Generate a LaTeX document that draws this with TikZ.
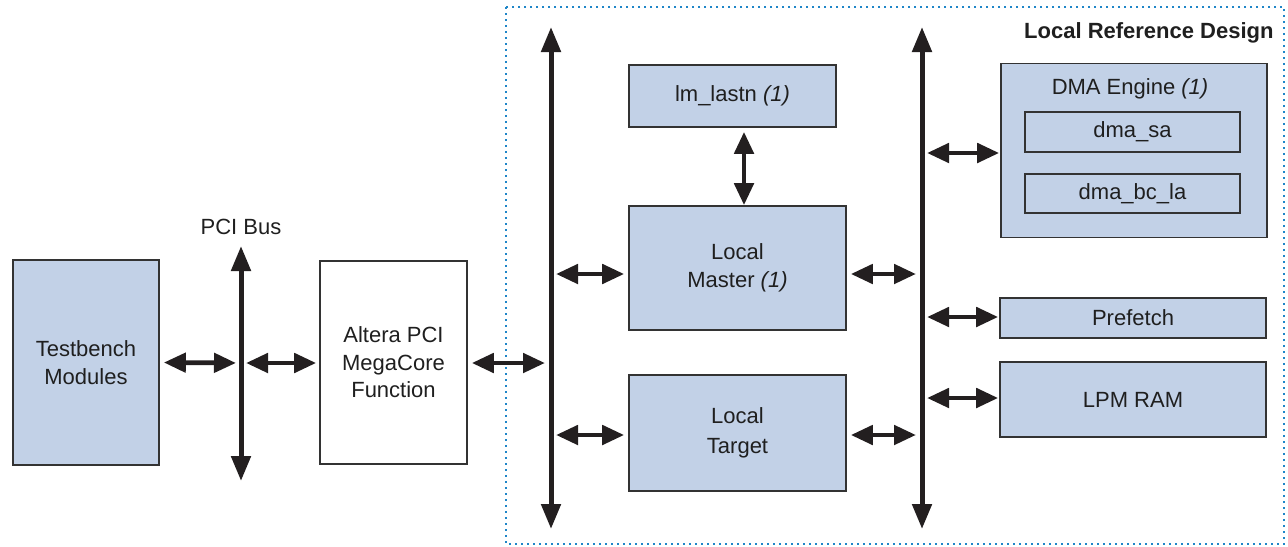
\documentclass[tikz,border=0pt]{standalone}
\usepackage{fontspec}
\setmainfont{Liberation Sans}
\usetikzlibrary{arrows.meta}
\definecolor{boxblue}{HTML}{C2D1E7}
\definecolor{edgegray}{HTML}{333333}
\definecolor{dotblue}{HTML}{1F86C8}
\definecolor{arrowblack}{HTML}{231F20}
\tikzset{
  blk/.style={draw=edgegray, line width=0.8pt, fill=boxblue, inner sep=0pt, align=center,
    font=\fontsize{11}{13.75}\selectfont, text=black!88},
  wblk/.style={blk, fill=white},
  busline/.style={draw=arrowblack, line width=2.5pt,
    {Triangle[length=12.5pt,width=9.5pt]}-{Triangle[length=12.5pt,width=9.5pt]}},
  link/.style={draw=arrowblack, line width=2.4pt,
    {Triangle[length=11pt,width=9.5pt]}-{Triangle[length=11pt,width=9.5pt]}},
  lbl/.style={font=\fontsize{11}{13.75}\selectfont, text=black!88, inner sep=0pt}
}
\begin{document}
\begin{tikzpicture}[x=0.5pt, y=-0.5pt]
\useasboundingbox (0,0) rectangle (1288,546);
% dotted frame
\draw[dotblue, line width=1pt, dash pattern=on 1pt off 2pt] (506,7) rectangle (1284,544);
\node[lbl, font=\fontsize{11}{13}\selectfont\bfseries, anchor=east] (title) at (1274,33) {Local Reference Design};

% boxes
\node[blk, minimum width=73pt, minimum height=102.5pt] (tb) at (86,362.5) {Testbench\\Modules};
\node[wblk, minimum width=73.5pt, minimum height=101.5pt] (alt) at (393.5,362.5) {Altera PCI\\MegaCore\\Function};
\node[blk, minimum width=103.5pt, minimum height=31pt] (lm) at (732.5,96) {lm\_lastn \textit{(1)}};
\node[blk, minimum width=108.5pt, minimum height=62pt] (lmaster) at (737.5,268) {Local\\Master \textit{(1)}};
\node[blk, minimum width=108.5pt, minimum height=58pt] (ltarget) at (737.5,433) {Local\\[1pt]Target};
\node[blk, minimum width=133pt, minimum height=87pt] (dma) at (1134,150.5) {};
\node[lbl] (dmalbl) at (1130,89) {DMA Engine \textit{(1)}};
\node[blk, minimum width=107.5pt, minimum height=20pt] (dmasa) at (1132.5,132) {dma\_sa};
\node[blk, minimum width=107.5pt, minimum height=19.5pt] (dmabc) at (1132.5,193.5) {dma\_bc\_la};
\node[blk, minimum width=133pt, minimum height=20pt] (pref) at (1133,318) {Prefetch};
\node[blk, minimum width=133pt, minimum height=37.5pt] (lpm) at (1133,399.5) {LPM RAM};

% buses
\coordinate (pcitop) at (241,246);
\coordinate (pcibot) at (241,481);
\coordinate (lbtop) at (551,27);
\coordinate (lbbot) at (551,529);
\coordinate (rbtop) at (922,27);
\coordinate (rbbot) at (922,529);
\draw[busline] (pcitop) -- (pcibot);
\draw[busline] (lbtop) -- (lbbot);
\draw[busline] (rbtop) -- (rbbot);
\node[lbl] (pcilbl) at (241,227) {PCI Bus};

% bus taps
\coordinate (pci363) at (241,363);
\coordinate (lb363) at (551,363);
\coordinate (lb274) at (551,274);
\coordinate (lb435) at (551,435);
\coordinate (rb274) at (922,274);
\coordinate (rb435) at (922,435);
\coordinate (rb153) at (922,153);
\coordinate (rb317) at (922,317);
\coordinate (rb398) at (922,398);
\coordinate (lmx) at (744,0);

% links
\draw[link, shorten <=2pt, shorten >=2.5pt] (tb.east) -- (pci363);
\draw[link, shorten <=2.5pt, shorten >=1.5pt] (pci363) -- (alt.west |- pci363);
\draw[link, shorten <=2pt, shorten >=3pt] (alt.east |- lb363) -- (lb363);
\draw[link, shorten <=2.5pt, shorten >=2pt] (lb274) -- (lmaster.west |- lb274);
\draw[link, shorten <=2.5pt, shorten >=2pt] (lb435) -- (ltarget.west |- lb435);
\draw[link, shorten <=2pt, shorten >=3pt] (lmaster.east |- rb274) -- (rb274);
\draw[link, shorten <=2pt, shorten >=3pt] (ltarget.east |- rb435) -- (rb435);
\draw[link, shorten <=2.5pt, shorten >=0.5pt] (rb153) -- (dma.west |- rb153);
\draw[link, shorten <=2.5pt, shorten >=0.5pt] (rb317) -- (pref.west |- rb317);
\draw[link, shorten <=2.5pt, shorten >=0.5pt] (rb398) -- (lpm.west |- rb398);
\draw[link, shorten <=2pt, shorten >=0pt] (lm.south -| lmx) -- (lmaster.north -| lmx);
\end{tikzpicture}
\end{document}
